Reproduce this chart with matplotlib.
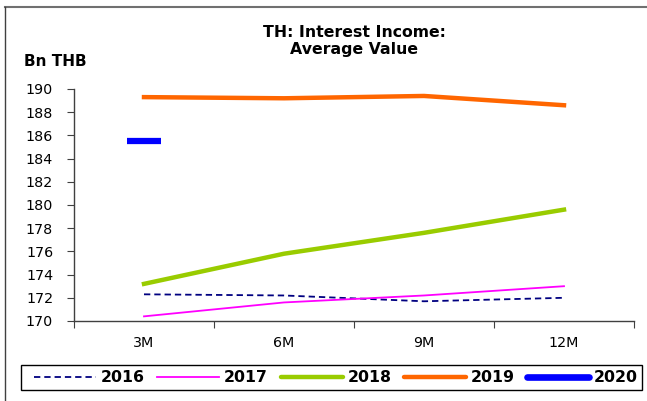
import matplotlib
matplotlib.use("Agg")
import matplotlib.pyplot as plt
from matplotlib.lines import Line2D
from matplotlib.patches import Rectangle

plt.rcParams['font.family'] = ['DejaVu Sans']

categories = ["3M", "6M", "9M", "12M"]
s2016 = [172.3, 172.2, 171.7, 172.0]
s2017 = [170.4, 171.6, 172.2, 173.0]
s2018 = [173.2, 175.8, 177.6, 179.6]
s2019 = [189.3, 189.2, 189.4, 188.6]
s2020 = [185.5]
yticks = list(range(170, 191, 2))

W, H = 647, 401
fig = plt.figure(figsize=(W/100, H/100), dpi=100)
ax = fig.add_axes([74/W, 1-321/H, (634-74)/W, (321-89)/H])

x = list(range(len(categories)))
ax.plot(x, s2016, color='#000080', lw=1.3, ls=(0, (3.5, 2.2)), label='2016')
ax.plot(x, s2017, color='#FF00FF', lw=1.3, label='2017')
ax.plot(x, s2018, color='#99CC00', lw=3.2, label='2018')
ax.plot(x, s2019, color='#FF6600', lw=3.2, label='2019')
ax.plot(x[:len(s2020)], s2020, color='#0000FF', lw=0, marker='_', ms=24, mew=4.5, label='2020')

ax.set_xlim(-0.5, len(categories)-0.5)
ax.set_ylim(170, 190)
ax.set_yticks(yticks)
ax.set_yticklabels([str(v) for v in yticks], fontsize=10.3)
ax.set_xticks([i - 0.5 for i in range(len(categories)+1)])
ax.set_xticklabels([])
ax.set_xticks(x, minor=True)
ax.set_xticklabels(categories, minor=True, fontsize=10.3)
ax.tick_params(axis='x', which='minor', length=0, pad=11)
ax.tick_params(axis='x', which='major', length=5, direction='out', color='#404040')
ax.tick_params(axis='y', length=5, direction='out', color='#404040', pad=10)
for s in ['top', 'right']:
    ax.spines[s].set_visible(False)
for s in ['left', 'bottom']:
    ax.spines[s].set_color('#404040')
    ax.spines[s].set_linewidth(1.0)

fig.text(354/W, 1-41/H, "TH: Interest Income:\nAverage Value", ha='center', va='center',
         fontsize=11.3, fontweight='bold', linespacing=1.1)
fig.text(24/W, 1-62/H, "Bn THB", ha='left', va='center', fontsize=11, fontweight='bold')

handles = [
    Line2D([], [], color='#000080', lw=1.3, ls=(0, (3.5, 2.2))),
    Line2D([], [], color='#FF00FF', lw=1.3),
    Line2D([], [], color='#99CC00', lw=3.2, solid_capstyle='round'),
    Line2D([], [], color='#FF6600', lw=3.2, solid_capstyle='round'),
    Line2D([], [], color='#0000FF', lw=4.8, solid_capstyle='round'),
]
leg = fig.legend(handles, ['2016', '2017', '2018', '2019', '2020'], loc='center',
                 bbox_to_anchor=(336/W, 1-377.5/H), ncol=5, frameon=False,
                 prop={'weight': 'bold', 'size': 11.3}, handlelength=3.95, columnspacing=0.8,
                 handletextpad=0.3, borderpad=0.3, borderaxespad=0)
fig.add_artist(Rectangle((21/W, 1-390/H), (642-21)/W, 25/H, transform=fig.transFigure,
                         fill=False, edgecolor='black', lw=1.0))

# outer frame lines
fig.add_artist(Line2D([5/W, 1], [1-7/H, 1-7/H], color='#707070', lw=1.5, transform=fig.transFigure))
fig.add_artist(Line2D([5/W, 5/W], [0, 1-7/H], color='#404040', lw=1.0, transform=fig.transFigure))

fig.savefig('out.png', dpi=100)
